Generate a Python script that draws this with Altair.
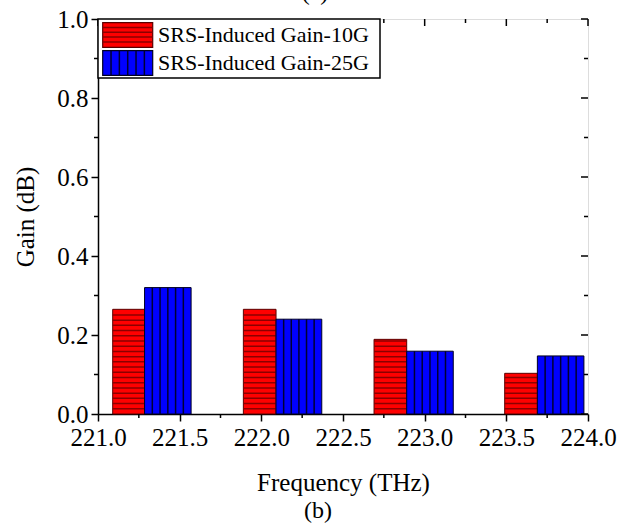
import altair as alt
import pandas as pd

# ---- data ----
freq_10g_start = [221.09, 221.89, 222.69, 223.49]
freq_split = [221.285, 222.09, 222.89, 223.69]
freq_25g_end = [221.57, 222.37, 223.175, 223.975]
gain_10g = [0.265, 0.265, 0.189, 0.103]
gain_25g = [0.320, 0.240, 0.159, 0.147]

x_ticks = [221.0, 221.5, 222.0, 222.5, 223.0, 223.5, 224.0]
x_minor = [221.25, 221.75, 222.25, 222.75, 223.25, 223.75]
y_ticks = [0.0, 0.2, 0.4, 0.6, 0.8, 1.0]
y_minor = [0.1, 0.3, 0.5, 0.7, 0.9]
legend_labels = ["SRS-Induced Gain-10G", "SRS-Induced Gain-25G"]

FONT = "'Liberation Serif', 'DejaVu Serif', serif"
W, H = 490, 395

df = pd.DataFrame({
    "x0": freq_10g_start,
    "xm": freq_split,
    "x1": freq_25g_end,
    "g10": gain_10g,
    "g25": gain_25g,
    "zero": [0.0] * 4,
})

xs = alt.Scale(domain=[221, 224], nice=False, zero=False)
ys = alt.Scale(domain=[0, 1], nice=False, zero=False)

common_axis = dict(
    tickSize=7, tickColor="black", tickWidth=1.5,
    domainColor="black", domainWidth=1.5, grid=False,
    labelFont=FONT, labelFontSize=25, labelColor="black",
    titleFont=FONT, titleFontSize=25, titleFontWeight="normal", titleColor="black",
    labelFlush=False, labelOverlap=False,
)
xaxis = alt.Axis(values=x_ticks, format=".1f", title="Frequency (THz)",
                 labelPadding=4, titlePadding=20, **common_axis)
yaxis = alt.Axis(values=y_ticks, format=".1f", title="Gain (dB)",
                 labelPadding=3, titlePadding=18, **common_axis)

def X(f):
    return alt.X(f, scale=xs, axis=xaxis)

def Y(f):
    return alt.Y(f, scale=ys, axis=yaxis)

base = alt.Chart(df)

red_bars = base.mark_rect(fill="#ff0000", stroke="#5a0000", strokeWidth=1).encode(
    x=X("x0:Q"), x2="xm:Q", y=Y("g10:Q"), y2="zero:Q",
)
red_stripes = (
    base.transform_calculate(k="sequence(1, 40)")
    .transform_flatten(["k"])
    .transform_calculate(sy="datum.k * 0.0132")
    .transform_filter("datum.sy < datum.g10 - 0.004")
    .mark_rule(color="#8b0000", strokeWidth=1.5)
    .encode(x=X("x0:Q"), x2="xm:Q", y=Y("sy:Q"))
)
blue_bars = base.mark_rect(fill="#0000ff", stroke="#000020", strokeWidth=1).encode(
    x=X("xm:Q"), x2="x1:Q", y=Y("g25:Q"), y2="zero:Q",
)
blue_stripes = (
    base.transform_calculate(k="sequence(1, 6)")
    .transform_flatten(["k"])
    .transform_calculate(sx="datum.xm + datum.k * (datum.x1 - datum.xm) / 6")
    .mark_rule(color="#000033", strokeWidth=1.5)
    .encode(x=X("sx:Q"), y=Y("g25:Q"), y2="zero:Q")
)

# ---- minor ticks and mirrored (inward) ticks on the frame ----
ymin_df = pd.DataFrame({"v": y_minor})
ymaj_df = pd.DataFrame({"v": y_ticks})
xmin_df = pd.DataFrame({"v": x_minor})
xmaj_df = pd.DataFrame({"v": x_ticks})

def yrule(d, xa, xb):
    return alt.Chart(d).mark_rule(color="black", strokeWidth=1.5).encode(
        y=Y("v:Q"), x=alt.value(xa), x2=alt.value(xb))

def xrule(d, ya, yb):
    return alt.Chart(d).mark_rule(color="black", strokeWidth=1.5).encode(
        x=X("v:Q"), y=alt.value(ya), y2=alt.value(yb))

ticks = [
    yrule(ymin_df, -4, 0),
    xrule(xmin_df, H, H + 4),
    yrule(ymaj_df, W - 7, W),
    yrule(ymin_df, W - 4, W),
    xrule(xmaj_df, 0, 7),
    xrule(xmin_df, 0, 4),
]

# ---- legend (drawn manually to show hatch patterns) ----
one = alt.Data(values=[{"a": 1}])

def vrect(x0, x1, y0, y1, fill, stroke, sw=1.5):
    return alt.Chart(one).mark_rect(fill=fill, stroke=stroke, strokeWidth=sw).encode(
        x=alt.value(x0), x2=alt.value(x1), y=alt.value(y0), y2=alt.value(y1))

def vline(x0, x1, y0, y1, color):
    return alt.Chart(one).mark_rule(color=color, strokeWidth=1.5).encode(
        x=alt.value(x0), x2=alt.value(x1), y=alt.value(y0), y2=alt.value(y1))

legend = [vrect(0, 282, 0, 59, "white", "black", 1.5)]
legend.append(vrect(4.7, 54.7, 3.7, 28.3, "#ff0000", "#5a0000", 1.2))
for yy in [8.5, 13.3, 18.1, 22.9]:
    legend.append(vline(4.7, 54.7, yy, yy, "#8b0000"))
legend.append(vrect(4.7, 54.7, 31.7, 56.3, "#0000ff", "#000020", 1.2))
for i in range(1, 6):
    xx = 4.7 + 50 * i / 6
    legend.append(vline(xx, xx, 31.7, 56.3, "#000033"))
for lbl, yy in zip(legend_labels, [16, 44]):
    legend.append(alt.Chart(one).mark_text(
        text=lbl, font=FONT, fontSize=22, color="black", align="left", baseline="middle"
    ).encode(x=alt.value(60), y=alt.value(yy)))

captions = [
    alt.Chart(one).mark_text(text="(b)", font=FONT, fontSize=24, color="black",
                             align="center", baseline="middle"
                             ).encode(x=alt.value(220), y=alt.value(492)),
    alt.Chart(one).mark_text(text="(a)", font=FONT, fontSize=24, color="black",
                             align="center", baseline="alphabetic"
                             ).encode(x=alt.value(217), y=alt.value(-19)),
]

chart = alt.layer(
    red_bars, red_stripes, blue_bars, blue_stripes, *ticks, *legend, *captions
).properties(
    width=W, height=H,
    padding={"left": 98, "top": 19, "right": 46, "bottom": 112},
    autosize=alt.AutoSizeParams(type="none"),
).configure_view(stroke="black", strokeWidth=1.5).configure(background="white")

chart.save("out.html", embed_options={"renderer": "svg", "actions": False})
